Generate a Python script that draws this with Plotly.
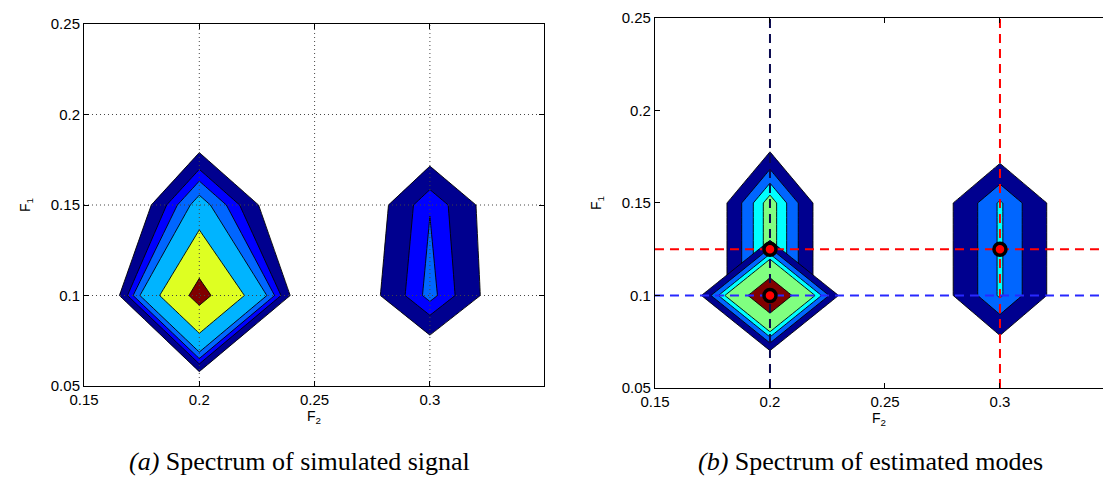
import plotly.graph_objects as go

# ---------------- data ----------------
F2 = [0.15, 0.2, 0.25, 0.3, 0.35]          # grid columns
F1 = [0.05, 0.1, 0.15, 0.2, 0.25]          # grid rows

# (a) spectrum of the simulated signal (rows = F1, cols = F2)
Z_SIM = [
    [0.000, 0.176, 0.000, 0.127, 0.000],
    [0.000, 1.000, 0.121, 0.447, 0.127],
    [0.000, 0.526, 0.100, 0.423, 0.133],
    [0.000, 0.148, 0.000, 0.153, 0.000],
    [0.000, 0.000, 0.000, 0.000, 0.000],
]
LEVELS_SIM = [0.307, 0.377, 0.426, 0.485, 0.656, 0.910]
COLORS_SIM = ['#00008F', '#0000FF', '#0066FF', '#00B4FF', '#DEFF22', '#800000']

# (b) spectra of the estimated modes
Z_MODE_A = [  # mode at F2=0.2, F1=0.125
    [0.000, 0.324, 0.000, 0.000, 0.000],
    [0.000, 1.000, 0.000, 0.000, 0.000],
    [0.000, 1.000, 0.000, 0.000, 0.000],
    [0.000, 0.324, 0.000, 0.000, 0.000],
    [0.000, 0.000, 0.000, 0.000, 0.000],
]
Z_MODE_C = [  # mode at F2=0.3, F1=0.125
    [0.000, 0.000, 0.000, 0.305, 0.000],
    [0.000, 0.000, 0.270, 0.870, 0.270],
    [0.000, 0.000, 0.270, 0.870, 0.270],
    [0.000, 0.000, 0.000, 0.300, 0.000],
    [0.000, 0.000, 0.000, 0.000, 0.000],
]
Z_MODE_B = [  # mode at F2=0.2, F1=0.1
    [0.000, 0.000, 0.000, 0.000, 0.000],
    [0.000, 1.550, 0.000, 0.000, 0.000],
    [0.000, 0.000, 0.000, 0.000, 0.000],
    [0.000, 0.000, 0.000, 0.000, 0.000],
    [0.000, 0.000, 0.000, 0.000, 0.000],
]
LEVELS_EST = [0.626, 0.754, 0.855, 0.942, 1.254]
COLORS_EST = ['#00008F', '#0066FF', '#00FFFF', '#80FF80', '#800000']

EST_F2 = [0.2, 0.2, 0.3]
EST_F1 = [0.125, 0.1, 0.125]
VLINE_F2 = [0.2, 0.3]
VLINE_COLORS = ['#0A0A50', '#FF0000']
HLINE_F1 = [0.1, 0.125]
HLINE_COLORS = ['#2828FF', '#FF0000']

X_TICKS = [0.15, 0.2, 0.25, 0.3]
X_TICKTEXT = ['0.15', '0.2', '0.25', '0.3']
Y_TICKS = [0.05, 0.1, 0.15, 0.2, 0.25]
Y_TICKTEXT = ['0.05', '0.1', '0.15', '0.2', '0.25']
GRID_X = [0.2, 0.25, 0.3]
GRID_Y = [0.1, 0.15, 0.2]

X_RANGE_A = [0.15, 0.3495]
X_RANGE_B = [0.15, 0.3448]
Y_RANGE = [0.05, 0.25]

# ---------------- figure ----------------
fig = go.Figure()


def add_levels(z, levels, colors, xa, ya):
    # constraint contours shade the region that fails the test,
    # so "<" shades everything above the level
    for lev, col in zip(levels, colors):
        fig.add_trace(go.Contour(
            x=F2, y=F1, z=z, xaxis=xa, yaxis=ya,
            contours=dict(type='constraint', operation='<', value=lev),
            fillcolor=col,
            line=dict(color='black', width=0.9, smoothing=0),
            showscale=False, hoverinfo='skip', showlegend=False))


# (a)
add_levels(Z_SIM, LEVELS_SIM, COLORS_SIM, 'x', 'y')
for gx in GRID_X:
    fig.add_trace(go.Scatter(x=[gx, gx], y=Y_RANGE, mode='lines', xaxis='x', yaxis='y',
                             line=dict(color='#444444', width=1, dash='1px,3px'),
                             hoverinfo='skip', showlegend=False))
for gy in GRID_Y:
    fig.add_trace(go.Scatter(x=X_RANGE_A, y=[gy, gy], mode='lines', xaxis='x', yaxis='y',
                             line=dict(color='#444444', width=1, dash='1px,3px'),
                             hoverinfo='skip', showlegend=False))

# (b)
add_levels(Z_MODE_A, LEVELS_EST, COLORS_EST, 'x2', 'y2')
add_levels(Z_MODE_C, LEVELS_EST, COLORS_EST, 'x2', 'y2')
add_levels(Z_MODE_B, LEVELS_EST, COLORS_EST, 'x2', 'y2')
for vx, vc in zip(VLINE_F2, VLINE_COLORS):
    fig.add_trace(go.Scatter(x=[vx, vx], y=Y_RANGE, mode='lines', xaxis='x2', yaxis='y2',
                             line=dict(color=vc, width=2, dash='9px,6px'),
                             hoverinfo='skip', showlegend=False))
for hy, hc in zip(HLINE_F1, HLINE_COLORS):
    fig.add_trace(go.Scatter(x=[X_RANGE_B[0], 0.36], y=[hy, hy], mode='lines', xaxis='x2', yaxis='y2',
                             line=dict(color=hc, width=2, dash='9px,6px'),
                             hoverinfo='skip', showlegend=False))
fig.add_trace(go.Scatter(x=EST_F2, y=EST_F1, mode='markers', xaxis='x2', yaxis='y2',
                         marker=dict(color='#FF0000', size=12, line=dict(color='black', width=3.5)),
                         hoverinfo='skip', showlegend=False))

tickfont = dict(family='Liberation Sans', size=15, color='black')
titlefont = dict(family='Liberation Sans', size=14, color='black')
common_x = dict(tickvals=X_TICKS, ticktext=X_TICKTEXT, ticks='inside', ticklen=5,
                tickcolor='black', showline=True, linecolor='black', linewidth=1,
                showgrid=False, zeroline=False, tickfont=tickfont, automargin=False,
                title=dict(text='F<sub>2</sub>', font=titlefont, standoff=0))
common_y = dict(tickvals=Y_TICKS, ticktext=Y_TICKTEXT, ticks='inside', ticklen=5,
                tickcolor='black', showline=True, linecolor='black', linewidth=1,
                showgrid=False, zeroline=False, tickfont=tickfont, range=Y_RANGE,
                automargin=False,
                title=dict(text='F<sub>1</sub>', font=titlefont, standoff=16))

fig.update_layout(
    width=1103, height=480,
    margin=dict(l=10, r=0, t=0, b=0, autoexpand=False),
    paper_bgcolor='white', plot_bgcolor='white',
    font=dict(family='Liberation Sans', color='black'),
    xaxis=dict(domain=[0.0677, 0.4886], range=X_RANGE_A, anchor='y', mirror='ticks', **common_x),
    yaxis=dict(domain=[0.1958, 0.95], anchor='x', mirror='ticks', **common_y),
    xaxis2=dict(domain=[0.5901, 1.0], range=X_RANGE_B, anchor='y2', mirror='ticks', **common_x),
    yaxis2=dict(domain=[0.1917, 0.9625], anchor='x2', mirror=False, **common_y),
    annotations=[
        dict(text='<i>(a)</i> Spectrum of simulated signal', xref='paper', yref='paper',
             x=0.2653, y=0.038, showarrow=False, xanchor='center', yanchor='middle',
             font=dict(family='Liberation Serif', size=26, color='black')),
        dict(text='<i>(b)</i> Spectrum of estimated modes', xref='paper', yref='paper',
             x=0.787, y=0.038, showarrow=False, xanchor='center', yanchor='middle',
             font=dict(family='Liberation Serif', size=26, color='black')),
    ],
)

fig.write_html('out.html', config={'displayModeBar': False},
               post_script="document.body.style.margin='0';document.body.style.overflow='hidden';")
